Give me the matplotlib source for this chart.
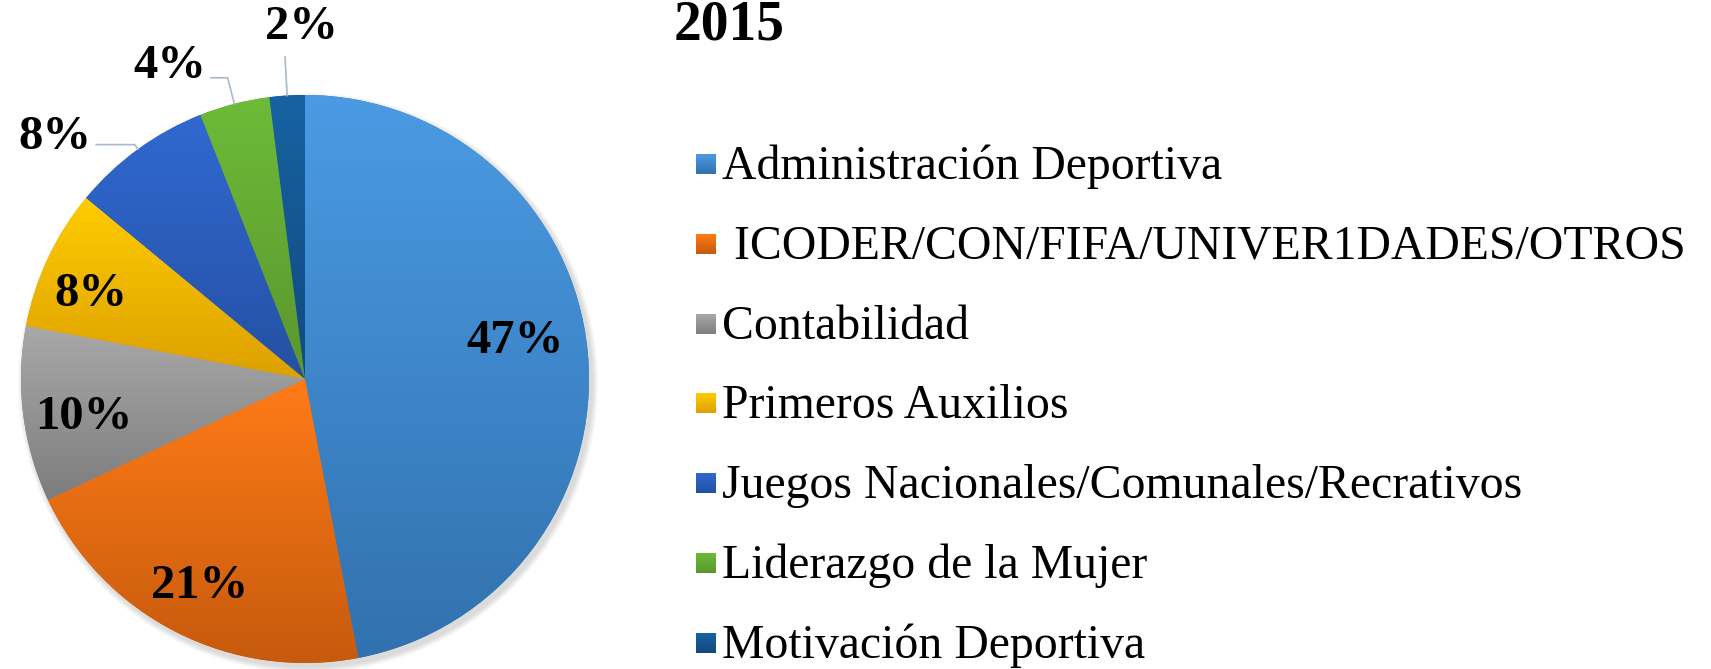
import numpy as np
import matplotlib.pyplot as plt
from matplotlib.colors import LinearSegmentedColormap
from matplotlib.patches import Circle

plt.rcParams['font.family'] = ['Liberation Serif', 'DejaVu Serif']

title = "2015"
categories = ["Administración Deportiva",
              " ICODER/CON/FIFA/UNIVER1DADES/OTROS",
              "Contabilidad",
              "Primeros Auxilios",
              "Juegos Nacionales/Comunales/Recrativos",
              "Liderazgo de la Mujer",
              "Motivación Deportiva"]
shares = [47, 21, 10, 8, 8, 4, 2]

# gradient (top, bottom) per slice
colors_top = ["#4A9BE4", "#FF7B17", "#A9A9A9", "#FFCC00", "#3169D1", "#6DBB38", "#1762A2"]
colors_bot = ["#3271AE", "#C65A0D", "#7D7D7D", "#DCA000", "#2450A3", "#5A962E", "#12497E"]

# label placement: radius (fraction of R), angle tweak in degrees
lab_r = [0.75, 0.82, 0.79, 0.81, 1.225, 1.20, 1.24]
lab_da = [5, 0, 2.5, 3.5, 10, 9, -3]
lead_r = [None, None, None, None, 1.02, 1.095, 1.12]

W, H = 1711, 669
fig = plt.figure(figsize=(W / 100, H / 100), dpi=100)
ax = fig.add_axes([0, 0, 1, 1])

cx, cy, R = 305, H - 379, 284

# soft shadow
for k in range(6):
    ax.add_patch(Circle((cx + 3, cy - 4), R + 1 + k, color='k', alpha=0.025, lw=0, zorder=1))

wedges, _ = ax.pie(shares, center=(cx, cy), radius=R, startangle=90,
                   counterclock=False, frame=True,
                   colors=colors_bot, wedgeprops=dict(linewidth=0, zorder=2))

grad = np.linspace(0, 1, 256).reshape(-1, 1)
for w, ct, cb in zip(wedges, colors_top, colors_bot):
    bb = w.get_path().get_extents()
    cmap = LinearSegmentedColormap.from_list('g', [cb, ct])
    ax.imshow(grad, extent=(bb.x0, bb.x1, bb.y0, bb.y1), origin='lower',
              cmap=cmap, aspect='auto', interpolation='bilinear',
              clip_path=w, zorder=3)

ax.set_xlim(0, W)
ax.set_ylim(0, H)
ax.set_aspect('equal')
ax.axis('off')

# percentage labels
cum = np.cumsum([0] + shares)
total = float(sum(shares))
texts = []
for i, v in enumerate(shares):
    mid = 90 - 360 * (cum[i] + v / 2) / total
    a = np.deg2rad(mid + lab_da[i])
    x = cx + lab_r[i] * R * np.cos(a)
    y = cy + lab_r[i] * R * np.sin(a)
    t = ax.text(x, y, f"{v}%", ha='center', va='center', fontsize=35,
                fontweight='bold', color='black', zorder=5)
    texts.append((t, mid))

fig.canvas.draw()
inv = ax.transData.inverted()
for i, (t, mid) in enumerate(texts):
    if lead_r[i] is None:
        continue
    a = np.deg2rad(mid)
    ex, ey = cx + R * np.cos(a), cy + R * np.sin(a)
    kx, ky = cx + lead_r[i] * R * np.cos(a), cy + lead_r[i] * R * np.sin(a)
    bb = t.get_window_extent().transformed(inv)
    if abs(np.cos(a)) < 0.1:
        xs, ys = [ex, kx], [ey, bb.y0 - 8]
    else:
        xs, ys = [ex, kx, bb.x1 + 5], [ey, ky, ky]
    ax.plot(xs, ys, color='#A9B8CC', lw=1.2, zorder=4)

# title (kept just inside the top edge)
ax.text(729, H - 40, title, ha='center', va='baseline', fontsize=40,
        fontweight='bold', color='black')

# legend
y0, dy = 164, 79.8
sq = 20
for i, name in enumerate(categories):
    yc = H - (y0 + dy * i)
    cmap = LinearSegmentedColormap.from_list('g', [colors_bot[i], colors_top[i]])
    ax.imshow(grad, extent=(696, 696 + sq, yc - sq / 2, yc + sq / 2), origin='lower',
              cmap=cmap, aspect='auto', interpolation='bilinear', zorder=3)
    ax.text(722, yc - 15, name, ha='left', va='baseline', fontsize=34.4, color='black')

ax.set_xlim(0, W)
ax.set_ylim(0, H)

fig.savefig('out.png', dpi=100)
